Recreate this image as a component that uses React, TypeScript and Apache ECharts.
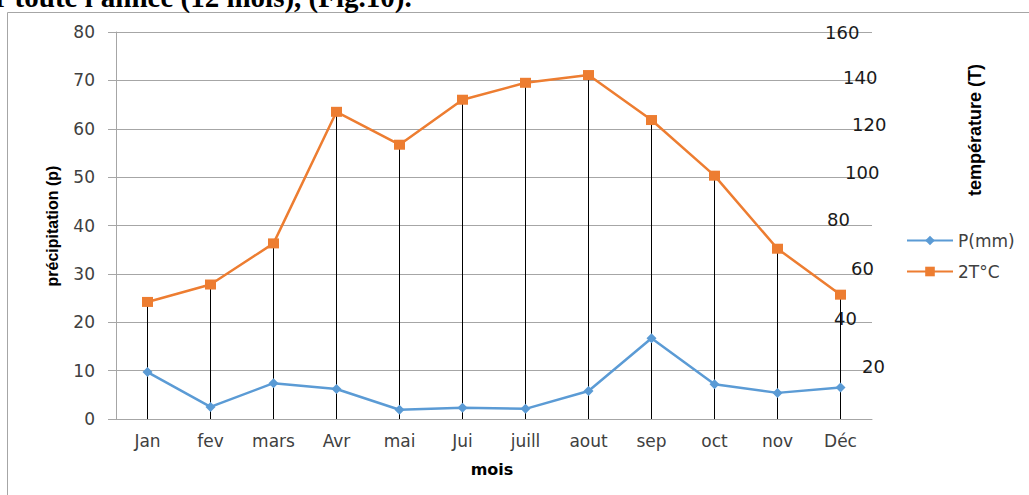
import React, { useEffect, useRef } from "react";
import * as echarts from "echarts";

const months = ["Jan", "fev", "mars", "Avr", "mai", "Jui", "juill", "aout", "sep", "oct", "nov", "Déc"];
const precip = [9.7, 2.5, 7.4, 6.2, 1.9, 2.3, 2.1, 5.8, 16.7, 7.2, 5.4, 6.5];
const twoT = [24.2, 27.8, 36.3, 63.5, 56.7, 66.0, 69.5, 71.1, 61.8, 50.3, 35.2, 25.7];
const leftTicks = [0, 10, 20, 30, 40, 50, 60, 70, 80];
const rightTicks = [20, 40, 60, 80, 100, 120, 140, 160];

const FONT = "DejaVu Sans";
const GRID = "#a6a6a6";

export default function App() {
  const ref = useRef<HTMLDivElement>(null);
  useEffect(() => {
    if (!ref.current) return;
    const chart = echarts.init(ref.current, undefined, { renderer: "svg" });

    // irregular placement of the hand-typed right labels: [shift right, shift up]
    const shift: Record<number, [number, number]> = {
      160: [0, 0], 140: [18, 3], 120: [27, 4], 100: [20, 5],
      80: [2, 6], 60: [26, 5], 40: [9, 4], 20: [37, 4],
    };
    const rich: Record<string, any> = {};
    rightTicks.forEach((v) => {
      const [dx, dy] = shift[v];
      rich["r" + v] = {
        fontFamily: FONT, fontSize: 18, color: "#1a1a1a",
        padding: [0, 0, dy * 2, dx],
      };
    });

    const drops = months.map((_, i) => [i, Math.max(precip[i], twoT[i])]);

    chart.setOption({
      animation: false,
      backgroundColor: "#fff",
      grid: { left: 116, right: 157, top: 32, bottom: 76 },
      graphic: [
        {
          type: "rect", z: -10, silent: true,
          shape: { x: 7.5, y: 12.5, width: 1100, height: 600 },
          style: { fill: "none", stroke: GRID, lineWidth: 1 },
        },
        {
          type: "text", left: -5, top: -18, silent: true,
          style: {
            text: "r toute l'année (12 mois), (Fig.10).",
            fontFamily: "Liberation Serif", fontWeight: "bold", fontSize: 29, fill: "#000",
          },
        },
        {
          type: "text", silent: true, x: 52, y: 226, rotation: Math.PI / 2,
          style: {
            text: "précipitation (p)", fontFamily: "Liberation Sans", fontWeight: "bold",
            fontSize: 16, fill: "#000", align: "center", verticalAlign: "middle",
          },
        },
        {
          type: "text", silent: true, x: 975, y: 130, rotation: Math.PI / 2,
          style: {
            text: "température (T)", fontFamily: "Liberation Sans", fontWeight: "bold",
            fontSize: 18, fill: "#000", align: "center", verticalAlign: "middle",
          },
        },
        {
          type: "text", silent: true, x: 492, y: 469,
          style: {
            text: "mois", fontFamily: FONT, fontWeight: "bold",
            fontSize: 16, fill: "#000", align: "center", verticalAlign: "middle",
          },
        },
      ],
      legend: {
        orient: "vertical", left: 906, top: 232, itemWidth: 46, itemHeight: 12, itemGap: 14,
        padding: 0,
        data: ["P(mm)", "2T°C"],
        textStyle: { fontFamily: FONT, fontSize: 17, color: "#404040" },
      },
      xAxis: {
        type: "category", data: months, boundaryGap: true,
        axisLine: { lineStyle: { color: GRID } },
        axisTick: { show: false },
        axisLabel: { fontFamily: FONT, fontSize: 17, color: "#404040", margin: 13 },
      },
      yAxis: [
        {
          type: "value", min: 0, max: 80, interval: 10,
          axisLine: { show: true, lineStyle: { color: GRID } },
          axisTick: { show: true, length: 8, lineStyle: { color: GRID } },
          splitLine: { lineStyle: { color: GRID } },
          axisLabel: {
            fontFamily: FONT, fontSize: 17, color: "#404040", margin: 21,
            formatter: (v: number) => (leftTicks.includes(v) ? String(v) : ""),
          },
        },
        {
          type: "value", min: 0, max: 160, interval: 20, position: "right",
          axisLine: { show: false }, axisTick: { show: false }, splitLine: { show: false },
          axisLabel: {
            margin: -47, align: "left", rich,
            formatter: (v: number) => (rightTicks.includes(v) ? `{r${v}|${v}}` : ""),
          },
        },
      ],
      series: [
        {
          type: "custom", name: "drop", z: 1, silent: true,
          data: drops, encode: { x: 0, y: 1 },
          renderItem: (params: any, api: any) => {
            const top = api.coord([api.value(0), api.value(1)]);
            const bot = api.coord([api.value(0), 0]);
            return {
              type: "line",
              shape: { x1: top[0], y1: top[1], x2: bot[0], y2: bot[1] },
              style: { stroke: "#000", lineWidth: 1 },
            };
          },
        },
        {
          name: "P(mm)", type: "line", data: precip, z: 3,
          symbol: "diamond", symbolSize: 10,
          lineStyle: { color: "#5b9bd5", width: 2.5 },
          itemStyle: { color: "#5b9bd5" },
        },
        {
          name: "2T°C", type: "line", data: twoT, z: 3,
          symbol: "rect", symbolSize: [11, 10],
          lineStyle: { color: "#ed7d31", width: 2.5 },
          itemStyle: { color: "#ed7d31" },
        },
      ],
    });
    return () => chart.dispose();
  }, []);
  return (
    <div
      ref={ref}
      style={{ position: "absolute", left: 0, top: 0, width: 1029, height: 495, background: "#fff" }}
    />
  );
}
